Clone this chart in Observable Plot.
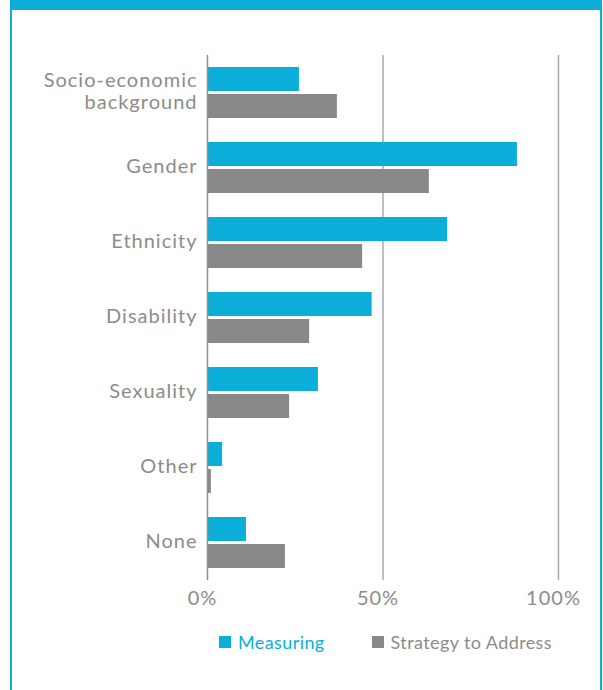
<!DOCTYPE html>
<html>
<head>
<meta charset="utf-8">
<script src="https://cdn.jsdelivr.net/npm/d3@7"></script>
<script src="https://cdn.jsdelivr.net/npm/@observablehq/plot@0.6"></script>
<style>
  html, body { margin: 0; padding: 0; background: #fff; }
  #wrap { position: relative; width: 603px; height: 690px; overflow: hidden; font-family: Lato, sans-serif; }
  #frame { position: absolute; left: 10px; top: 0; width: 592px; height: 720px; box-sizing: border-box;
           border-top: 10px solid #0BAED8; border-left: 2px solid #0BAED8; border-right: 2px solid #0BAED8; }
  #chart { position: absolute; left: 0; top: 0; }
  #legend { position: absolute; top: 631px; left: 219px; display: flex; align-items: center; font-size: 18px; letter-spacing: 0.4px; white-space: nowrap; }
  .item { display: flex; align-items: center; }
  .sw { width: 12px; height: 12px; margin-right: 7px; }
</style>
</head>
<body>
<div id="wrap">
  <div id="frame"></div>
  <div id="chart"></div>
  <div id="legend"></div>
</div>
<script>
const categories = ["Socio-economic\nbackground", "Gender", "Ethnicity", "Disability", "Sexuality", "Other", "None"];
const seriesNames = ["Measuring", "Strategy to Address"];
const measuring = [26.2, 88.3, 68.4, 46.9, 31.6, 4.3, 11.1];
const strategy = [37.0, 63.2, 44.2, 29.1, 23.4, 1.1, 22.2];
const xTicks = [0, 50, 100];
const colors = ["#0BAED8", "#888888"];

const rows = categories.flatMap((c, i) => [
  {category: c, series: seriesNames[0], value: measuring[i]},
  {category: c, series: seriesNames[1], value: strategy[i]}
]);

const chart = Plot.plot({
  width: 603,
  height: 620,
  marginLeft: 207,
  marginRight: 45,
  marginTop: 54,
  marginBottom: 39,
  style: {fontFamily: "Lato, sans-serif", fontSize: "20px", color: "#8c8c8c", background: "transparent", overflow: "visible", letterSpacing: "1px"},
  facet: {data: rows, y: "category", label: null},
  fy: {domain: categories, padding: 0, label: null},
  y: {domain: seriesNames, axis: null, paddingInner: 0.107, paddingOuter: 0.398},
  x: {domain: [0, 100], label: null},
  color: {domain: seriesNames, range: colors},
  marks: [
    Plot.ruleX(xTicks.slice(1), {stroke: "#a8a8a8", strokeWidth: 1.5}),
    Plot.barX(rows, {x: "value", y: "series", fill: "series"}),
    Plot.ruleX([0], {stroke: "#8c8c8c", strokeWidth: 1.5}),
    Plot.axisFy({anchor: "left", tickSize: 0, tickPadding: 10, lineHeight: 1.1, dy: -2, label: null}),
    Plot.axisX({ticks: xTicks, tickFormat: d => d + "%", tickSize: 0, tickPadding: 10, dx: -5, label: null})
  ]
});
document.getElementById("chart").appendChild(chart);

const legend = document.getElementById("legend");
seriesNames.forEach((s, i) => {
  const item = document.createElement("div");
  item.className = "item";
  if (i > 0) item.style.marginLeft = "47px";
  const sw = document.createElement("div");
  sw.className = "sw";
  sw.style.background = colors[i];
  const t = document.createElement("span");
  t.textContent = s;
  t.style.color = i === 0 ? colors[0] : "#8c8c8c";
  item.appendChild(sw);
  item.appendChild(t);
  legend.appendChild(item);
});
</script>
</body>
</html>
